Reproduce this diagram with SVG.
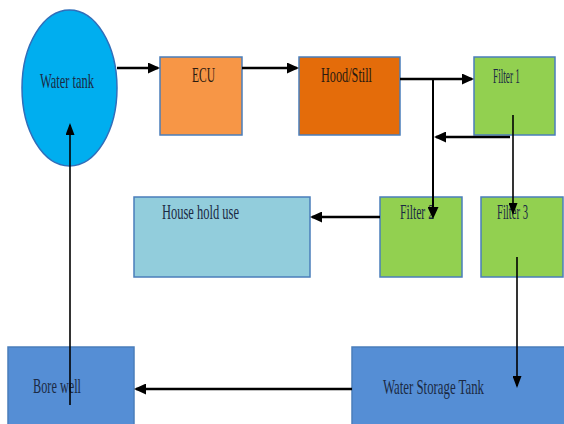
<svg xmlns="http://www.w3.org/2000/svg" width="564" height="424" viewBox="0 0 564 424">
<style>
.box{stroke:#4A7EBB;stroke-width:1.5}
.lbl{font-family:"Liberation Serif","Times New Roman",serif;font-size:22px;fill:#1B2A44}
.dk{fill:#2A1A10}
.thick{stroke:#000;stroke-width:2.6;fill:none}
.mid{stroke:#000;stroke-width:2;fill:none}
.thin{stroke:#000;stroke-width:1.6;fill:none}
</style>
<defs>
<marker id="ah" viewBox="0 0 12 11" refX="10" refY="5.5" markerWidth="12" markerHeight="11" markerUnits="userSpaceOnUse" orient="auto">
<path d="M0,0 L12,5.5 L0,11 z" fill="#000"/>
</marker>
<marker id="ahs" viewBox="0 0 12 9" refX="10" refY="4.5" markerWidth="12" markerHeight="9" markerUnits="userSpaceOnUse" orient="auto">
<path d="M0,0 L12,4.5 L0,9 z" fill="#000"/>
</marker>
</defs>
<rect width="564" height="424" fill="#fff"/>
<g id="water-tank">
<ellipse cx="69.5" cy="88" rx="47.5" ry="78" fill="#00AEEF" stroke="#2F6EBA" stroke-width="1.5"/>
<text class="lbl" x="40" y="88" textLength="54" lengthAdjust="spacingAndGlyphs">Water tank</text>
</g>
<g id="ecu">
<rect class="box" x="160" y="57" width="82" height="78" fill="#F79646"/>
<text class="lbl dk" x="192" y="82" textLength="23" lengthAdjust="spacingAndGlyphs">ECU</text>
</g>
<g id="hood-still">
<rect class="box" x="299" y="57" width="101" height="78" fill="#E46C0A"/>
<text class="lbl dk" x="321" y="82" textLength="51" lengthAdjust="spacingAndGlyphs">Hood/Still</text>
</g>
<g id="filter-1">
<rect class="box" x="474" y="57" width="81" height="78" fill="#92D050"/>
<text class="lbl" x="493" y="83" textLength="27" lengthAdjust="spacingAndGlyphs">Filter 1</text>
</g>
<g id="house-hold-use">
<rect class="box" x="134" y="197" width="176" height="80" fill="#92CDDC"/>
<text class="lbl" x="162" y="219" textLength="77" lengthAdjust="spacingAndGlyphs">House hold use</text>
</g>
<g id="filter-2">
<rect class="box" x="380" y="197" width="82" height="80" fill="#92D050"/>
<text class="lbl" x="400" y="219" textLength="34" lengthAdjust="spacingAndGlyphs">Filter 2</text>
</g>
<g id="filter-3">
<rect class="box" x="481" y="197" width="82" height="80" fill="#92D050"/>
<text class="lbl" x="497" y="219" textLength="31" lengthAdjust="spacingAndGlyphs">Filter 3</text>
</g>
<g id="water-storage-tank">
<rect class="box" x="352" y="347" width="214" height="80" fill="#558ED5"/>
<text class="lbl" x="383" y="394" textLength="101" lengthAdjust="spacingAndGlyphs">Water Storage Tank</text>
</g>
<g id="bore-well">
<rect class="box" x="8" y="347" width="126" height="80" fill="#558ED5"/>
<text class="lbl" x="33" y="393" textLength="48" lengthAdjust="spacingAndGlyphs">Bore well</text>
</g>
<g id="connectors">
<line class="thick" x1="117" y1="68" x2="158" y2="68" marker-end="url(#ah)"/>
<line class="thick" x1="242" y1="68" x2="297" y2="68" marker-end="url(#ah)"/>
<line class="thick" x1="400" y1="79" x2="472" y2="79" marker-end="url(#ah)"/>
<line class="mid" x1="433" y1="79" x2="433" y2="217" marker-end="url(#ah)"/>
<line class="thick" x1="510" y1="137" x2="436" y2="137" marker-end="url(#ah)"/>
<line class="thin" x1="513" y1="115" x2="513" y2="213" marker-end="url(#ahs)"/>
<line class="thick" x1="380" y1="217" x2="312" y2="217" marker-end="url(#ah)"/>
<line class="thin" x1="517" y1="257" x2="517" y2="386" marker-end="url(#ahs)"/>
<line class="thick" x1="352" y1="389" x2="136" y2="389" marker-end="url(#ah)"/>
<line class="thin" x1="70" y1="405" x2="70" y2="125" marker-end="url(#ahs)"/>
</g>
</svg>
